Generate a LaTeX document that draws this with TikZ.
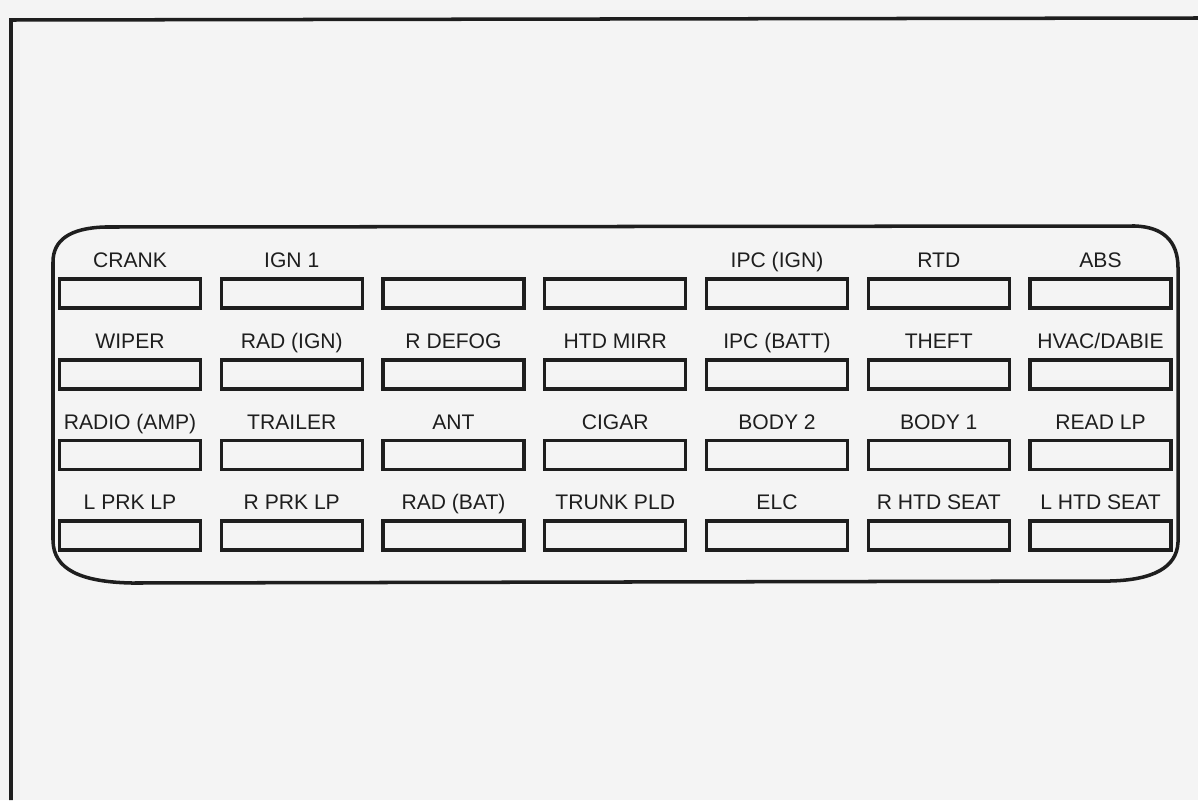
\documentclass[tikz,border=0pt]{standalone}
\usepackage{fontspec}
\setmainfont{Liberation Sans}
\usetikzlibrary{positioning}
\definecolor{paper}{HTML}{F4F4F4}
\definecolor{ink}{HTML}{1E1E1E}

\begin{document}
\begin{tikzpicture}[
    x=0.01cm, y=-0.01cm, % one unit per pixel, y pointing down
    fuse/.style={draw=ink, line width=0.9pt, fill=paper, minimum width=1.41cm, minimum height=0.29cm, inner sep=0pt}, % Style for a fuse slot
    fuselabel/.style={text=ink, font=\fontsize{6}{7}\selectfont, inner sep=0pt, text depth=0pt} % Style for the fuse names
]

    % Page background and size
    \fill[paper] (0,0) rectangle (1198,800);
    \useasboundingbox (0,0) rectangle (1198,800);

    % Outer frame (left and top edge only)
    \draw[ink, line width=1pt] (11,800) -- (11,20) -- (1198,18);

    % Rounded outline of the fuse block
    \draw[ink, line width=1pt] (105,227) -- (1135,226)
        .. controls (1162,227) and (1178,240) .. (1178,268) -- (1178,542)
        .. controls (1177,568) and (1152,580) .. (1110,581) -- (132,583)
        .. controls (82,582) and (53,570) .. (53,540) -- (53,262)
        .. controls (53,240) and (70,228) .. (105,227) -- cycle;

    % Row 1
    \foreach \i in {1,...,7}
        \node[fuse] (f1\i) at ({130+161.75*(\i-1)}, 293.5) {};
    \foreach \i/\lab in {1/CRANK, 2/IGN 1, 5/IPC (IGN), 6/RTD, 7/ABS}
        \node[fuselabel, above=0.09cm of f1\i] (l1\i) {\lab};

    % Row 2
    \foreach \lab [count=\i] in {WIPER, RAD (IGN), R DEFOG, HTD MIRR, IPC (BATT), THEFT, HVAC/DABIE} {
        \node[fuse] (f2\i) at ({130+161.75*(\i-1)}, 374.5) {};
        \node[fuselabel, above=0.09cm of f2\i] (l2\i) {\lab};
    }

    % Row 3
    \foreach \lab [count=\i] in {RADIO (AMP), TRAILER, ANT, CIGAR, BODY 2, BODY 1, READ LP} {
        \node[fuse] (f3\i) at ({130+161.75*(\i-1)}, 455) {};
        \node[fuselabel, above=0.09cm of f3\i] (l3\i) {\lab};
    }

    % Row 4
    \foreach \lab [count=\i] in {L PRK LP, R PRK LP, RAD (BAT), TRUNK PLD, ELC, R HTD SEAT, L HTD SEAT} {
        \node[fuse] (f4\i) at ({130+161.75*(\i-1)}, 535.5) {};
        \node[fuselabel, above=0.09cm of f4\i] (l4\i) {\lab};
    }

\end{tikzpicture}
\end{document}
